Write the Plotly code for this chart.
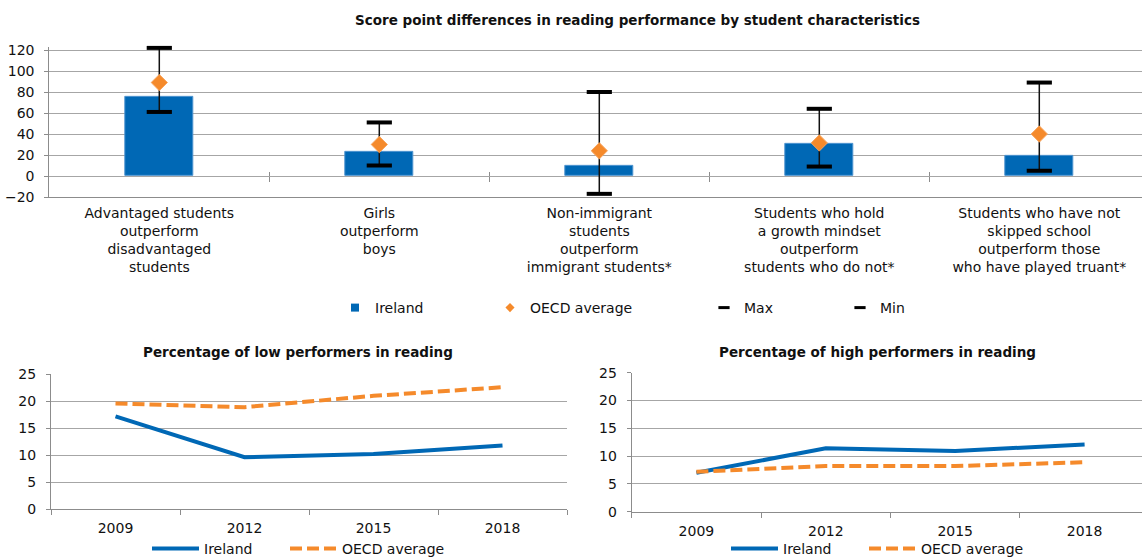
import plotly.graph_objects as go

# ---------------- data ----------------
categories = [
    "Advantaged students<br>outperform<br>disadvantaged<br>students",
    "Girls<br>outperform<br>boys",
    "Non-immigrant<br>students<br>outperform<br>immigrant students*",
    "Students who hold<br>a growth mindset<br>outperform<br>students who do not*",
    "Students who have not<br>skipped school<br>outperform those<br>who have played truant*",
]
ireland_diff = [75, 23, 9.5, 31, 19]
oecd_diff = [89, 30, 24, 31.5, 40]
max_diff = [122, 51, 80, 64, 89]
min_diff = [61, 10, -17, 9, 5]

years = ["2009", "2012", "2015", "2018"]
low_ireland = [17.2, 9.6, 10.2, 11.8]
low_oecd = [19.6, 18.9, 21.0, 22.6]
high_ireland = [7.0, 11.4, 10.9, 12.1]
high_oecd = [7.2, 8.2, 8.2, 8.9]

# ---------------- style ----------------
W, H = 1142, 558
BLUE = "#0068B5"
ORANGE = "#F58A2B"
GRID = "#A6A6A6"
AXIS = "#8C8C8C"
FONT = "DejaVu Sans"
TXT = "#111111"


def px_x(p):
    return p / W


def px_y(p):
    return 1 - p / H


fig = go.Figure()

# ---------- top chart ----------
fig.add_trace(go.Bar(
    x=categories, y=ireland_diff, name="Ireland", width=0.31,
    marker=dict(color=BLUE, line=dict(color="#4F94D0", width=1)),
    showlegend=False, xaxis="x", yaxis="y"))

seg_x, seg_y = [], []
for c, lo, hi in zip(categories, min_diff, max_diff):
    seg_x += [c, c, None]
    seg_y += [lo, hi, None]
fig.add_trace(go.Scatter(
    x=seg_x, y=seg_y, mode="lines", line=dict(color="#111111", width=1.5),
    showlegend=False, hoverinfo="skip", cliponaxis=False, xaxis="x", yaxis="y"))

fig.add_trace(go.Scatter(
    x=categories, y=max_diff, mode="markers", name="Max",
    marker=dict(symbol="line-ew", size=18, line=dict(color="black", width=4)),
    showlegend=False, cliponaxis=False, xaxis="x", yaxis="y"))
fig.add_trace(go.Scatter(
    x=categories, y=min_diff, mode="markers", name="Min",
    marker=dict(symbol="line-ew", size=18, line=dict(color="black", width=4)),
    showlegend=False, cliponaxis=False, xaxis="x", yaxis="y"))
fig.add_trace(go.Scatter(
    x=categories, y=oecd_diff, mode="markers", name="OECD average",
    marker=dict(symbol="diamond", size=12.5, color=ORANGE,
                line=dict(color="#F8A55E", width=1)),
    showlegend=False, cliponaxis=False, xaxis="x", yaxis="y"))

# legend-only entries for the top chart
legend_entries = [
    ("Ireland", dict(symbol="square", size=8, color=BLUE), "legend"),
    ("OECD average", dict(symbol="diamond", size=7, color=ORANGE), "legend2"),
    ("Max", dict(symbol="line-ew", size=8, line=dict(color="black", width=3)), "legend3"),
    ("Min", dict(symbol="line-ew", size=8, line=dict(color="black", width=3)), "legend4"),
]
for name, mk, lg in legend_entries:
    fig.add_trace(go.Scatter(x=[None], y=[None], mode="markers", name=name,
                             marker=mk, legend=lg, showlegend=True,
                             xaxis="x", yaxis="y", hoverinfo="skip"))

# helper traces so the tick-only overlay axes are drawn
for ax in ["x2", "x3"]:
    fig.add_trace(go.Scatter(x=[None], y=[None], xaxis=ax, yaxis="y",
                             showlegend=False, hoverinfo="skip"))

# ---------- bottom charts ----------
fig.add_trace(go.Scatter(x=years, y=low_ireland, mode="lines", name="Ireland",
                         line=dict(color=BLUE, width=4), legend="legend5",
                         xaxis="x4", yaxis="y4"))
fig.add_trace(go.Scatter(x=years, y=low_oecd, mode="lines", name="OECD average",
                         line=dict(color=ORANGE, width=4, dash="12px,5px"),
                         legend="legend6", xaxis="x4", yaxis="y4"))
fig.add_trace(go.Scatter(x=years, y=high_ireland, mode="lines", name="Ireland",
                         line=dict(color=BLUE, width=4), legend="legend7",
                         xaxis="x5", yaxis="y5"))
fig.add_trace(go.Scatter(x=years, y=high_oecd, mode="lines", name="OECD average",
                         line=dict(color=ORANGE, width=4, dash="12px,5px"),
                         legend="legend8", xaxis="x5", yaxis="y5"))

# ---------- layout ----------
tickfont = dict(family=FONT, size=14, color=TXT)

top_left = 49.3
top_cat_w = 220
top_xrange = [-0.5, -0.5 + (W - top_left) / top_cat_w]
# value axis: -20 at y=197px, 120 at y=50px; range extended slightly above 120
# so that a Max marker just over 120 is still drawn
px_per_unit = (197 - 50) / 140
top_yrange = [-20, 123]
top_ydom = [px_y(197), px_y(197 - (top_yrange[1] - top_yrange[0]) * px_per_unit)]
y0_paper = top_ydom[0] + (0 - top_yrange[0]) / (top_yrange[1] - top_yrange[0]) * (top_ydom[1] - top_ydom[0])
boundaries = [i + 0.5 for i in range(len(categories) - 1)]

bl_left, bl_w = 51, 129
br_left, br_w = 631.7, 129.4


def yax(dom, rng, dtick, anchor):
    return dict(domain=dom, range=rng, dtick=dtick, tick0=0, anchor=anchor,
                showgrid=True, gridcolor=GRID, gridwidth=1, automargin=False,
                zeroline=False, showline=True, linecolor=AXIS, linewidth=1,
                ticks="outside", ticklen=4, tickcolor=AXIS,
                tickfont=tickfont, ticklabelstandoff=7, fixedrange=True)


def leg(text_x, y_px, itemwidth=30):
    offset = itemwidth + 10
    return dict(x=px_x(text_x - offset), xanchor="left", y=px_y(y_px), yanchor="middle",
                xref="container", yref="container",
                orientation="h", font=dict(family=FONT, size=14, color=TXT),
                bgcolor="rgba(0,0,0,0)", borderwidth=0, itemwidth=itemwidth)


fig.update_layout(
    width=W, height=H, margin=dict(l=0, r=0, t=0, b=0, autoexpand=False),
    paper_bgcolor="white", plot_bgcolor="white",
    font=dict(family=FONT, size=14, color=TXT),
    bargap=0,
    xaxis=dict(domain=[px_x(top_left), 1], range=top_xrange, type="category",
               anchor="y", showline=True, linecolor=AXIS, ticks="", automargin=False,
               showgrid=False, tickfont=tickfont, ticklabelstandoff=3),
    yaxis=dict(**yax(top_ydom, top_yrange, 20, "x")),
    xaxis2=dict(overlaying="x", anchor="free", position=y0_paper, side="bottom",
                range=top_xrange, type="linear", tickmode="array", tickvals=boundaries,
                ticks="outside", ticklen=5, tickcolor=AXIS, showticklabels=False,
                showgrid=False, zeroline=False, showline=False, automargin=False),
    xaxis3=dict(overlaying="x", anchor="free", position=y0_paper, side="top",
                range=top_xrange, type="linear", tickmode="array", tickvals=boundaries,
                ticks="outside", ticklen=4, tickcolor=AXIS, showticklabels=False,
                showgrid=False, zeroline=False, showline=False, automargin=False),
    xaxis4=dict(domain=[px_x(bl_left), px_x(bl_left + 4 * bl_w)], range=[-0.5, 3.5],
                type="category", anchor="y4", tickson="boundaries", ticks="outside",
                ticklen=5, tickcolor=AXIS, showline=True, linecolor=AXIS, automargin=False,
                showgrid=False, tickfont=tickfont, ticklabelstandoff=6),
    yaxis4=dict(**yax([px_y(509), px_y(374.3)], [0, 25], 5, "x4")),
    xaxis5=dict(domain=[px_x(br_left), 1], range=[-0.5, -0.5 + (W - br_left) / br_w],
                type="category", anchor="y5", tickson="boundaries", ticks="outside",
                ticklen=5, tickcolor=AXIS, showline=True, linecolor=AXIS, automargin=False,
                showgrid=False, tickfont=tickfont, ticklabelstandoff=6),
    yaxis5=dict(**yax([px_y(511.7), px_y(372.7)], [0, 25], 5, "x5")),
    legend=leg(375, 308),
    legend2=leg(530, 308),
    legend3=leg(744, 308),
    legend4=leg(880, 308),
    legend5=leg(204, 549, itemwidth=47),
    legend6=leg(342, 549, itemwidth=47),
    legend7=leg(783, 549, itemwidth=47),
    legend8=leg(921, 549, itemwidth=47),
    showlegend=True,
)

titles = [
    ("Score point differences in reading performance by student characteristics", 637.5, 20),
    ("Percentage of low performers in reading", 298, 352),
    ("Percentage of high performers in reading", 877, 352),
]
for text, cx, cy in titles:
    fig.add_annotation(text="<b>" + text + "</b>", xref="paper", yref="paper",
                       x=px_x(cx), y=px_y(cy), xanchor="center", yanchor="middle",
                       showarrow=False, font=dict(family=FONT, size=13.5, color=TXT))

fig.write_html("out.html",
               config={"displayModeBar": False},
               post_script="document.body.style.margin='0px';document.body.style.padding='0px';")
